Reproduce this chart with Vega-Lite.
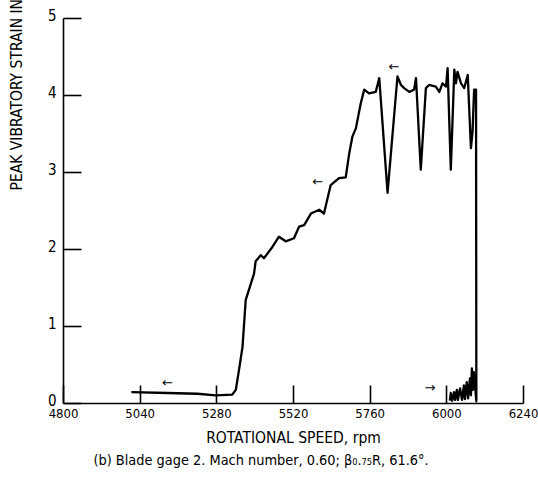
{
  "$schema": "https://vega.github.io/schema/vega-lite/v6.json",
  "autosize": {"type": "none"},
  "width": 460,
  "height": 385,
  "padding": {"left": 63, "top": 18, "right": 15, "bottom": 77},
  "background": "white",
  "config": {
    "view": {"stroke": null},
    "font": "DejaVu Sans Condensed, Liberation Sans, sans-serif",
    "axis": {"grid": false, "labelFlush": false, "domainColor": "#000", "domainWidth": 1.6, "tickColor": "#000", "tickWidth": 1.6, "labelColor": "#000", "titleColor": "#000", "labelFont": "DejaVu Sans Condensed, Liberation Sans, sans-serif", "titleFont": "DejaVu Sans Condensed, Liberation Sans, sans-serif", "labelFontSize": 13, "titleFontSize": 15.5, "titleFontWeight": "normal"}
  },
  "title": {
    "text": "(b) Blade gage 2. Mach number, 0.60; β₀.₇₅R, 61.6°.",
    "orient": "bottom",
    "anchor": "middle",
    "font": "DejaVu Sans Condensed, Liberation Sans, sans-serif",
    "fontSize": 14.4,
    "fontWeight": "normal",
    "color": "#000",
    "offset": 8,
    "dx": -32
  },
  "datasets": {
    "curve": [
      {"i": 1, "rpm": 5014, "strain": 0.14},
      {"i": 2, "rpm": 5127, "strain": 0.13},
      {"i": 3, "rpm": 5221, "strain": 0.12},
      {"i": 4, "rpm": 5278, "strain": 0.10},
      {"i": 5, "rpm": 5330, "strain": 0.11},
      {"i": 6, "rpm": 5341, "strain": 0.17},
      {"i": 7, "rpm": 5351, "strain": 0.43},
      {"i": 8, "rpm": 5362, "strain": 0.73},
      {"i": 9, "rpm": 5372, "strain": 1.34},
      {"i": 10, "rpm": 5382, "strain": 1.47},
      {"i": 11, "rpm": 5398, "strain": 1.68},
      {"i": 12, "rpm": 5403, "strain": 1.84},
      {"i": 13, "rpm": 5419, "strain": 1.92},
      {"i": 14, "rpm": 5429, "strain": 1.88},
      {"i": 15, "rpm": 5456, "strain": 2.03},
      {"i": 16, "rpm": 5476, "strain": 2.16},
      {"i": 17, "rpm": 5497, "strain": 2.10},
      {"i": 18, "rpm": 5523, "strain": 2.14},
      {"i": 19, "rpm": 5539, "strain": 2.29},
      {"i": 20, "rpm": 5555, "strain": 2.31},
      {"i": 21, "rpm": 5576, "strain": 2.46},
      {"i": 22, "rpm": 5602, "strain": 2.51},
      {"i": 23, "rpm": 5617, "strain": 2.46},
      {"i": 24, "rpm": 5638, "strain": 2.83},
      {"i": 25, "rpm": 5664, "strain": 2.92},
      {"i": 26, "rpm": 5685, "strain": 2.93},
      {"i": 27, "rpm": 5696, "strain": 3.24},
      {"i": 28, "rpm": 5706, "strain": 3.46},
      {"i": 29, "rpm": 5717, "strain": 3.57},
      {"i": 30, "rpm": 5732, "strain": 3.89},
      {"i": 31, "rpm": 5743, "strain": 4.07},
      {"i": 32, "rpm": 5758, "strain": 4.02},
      {"i": 33, "rpm": 5779, "strain": 4.04},
      {"i": 34, "rpm": 5790, "strain": 4.22},
      {"i": 35, "rpm": 5816, "strain": 2.73},
      {"i": 36, "rpm": 5847, "strain": 4.24},
      {"i": 37, "rpm": 5858, "strain": 4.13},
      {"i": 38, "rpm": 5868, "strain": 4.09},
      {"i": 39, "rpm": 5884, "strain": 4.04},
      {"i": 40, "rpm": 5899, "strain": 4.07},
      {"i": 41, "rpm": 5905, "strain": 4.22},
      {"i": 42, "rpm": 5920, "strain": 3.03},
      {"i": 43, "rpm": 5936, "strain": 4.09},
      {"i": 44, "rpm": 5946, "strain": 4.13},
      {"i": 45, "rpm": 5967, "strain": 4.11},
      {"i": 46, "rpm": 5978, "strain": 4.04},
      {"i": 47, "rpm": 5988, "strain": 4.15},
      {"i": 48, "rpm": 5999, "strain": 4.11},
      {"i": 49, "rpm": 6004, "strain": 4.35},
      {"i": 50, "rpm": 6014, "strain": 3.03},
      {"i": 51, "rpm": 6025, "strain": 4.33},
      {"i": 52, "rpm": 6030, "strain": 4.15},
      {"i": 53, "rpm": 6035, "strain": 4.30},
      {"i": 54, "rpm": 6046, "strain": 4.15},
      {"i": 55, "rpm": 6056, "strain": 4.09},
      {"i": 56, "rpm": 6067, "strain": 4.26},
      {"i": 57, "rpm": 6077, "strain": 3.31},
      {"i": 58, "rpm": 6082, "strain": 3.52},
      {"i": 59, "rpm": 6087, "strain": 4.07},
      {"i": 60, "rpm": 6093, "strain": 4.07},
      {"i": 61, "rpm": 6094, "strain": 0.02},
      {"i": 62, "rpm": 6086, "strain": 0.40},
      {"i": 63, "rpm": 6083, "strain": 0.17},
      {"i": 64, "rpm": 6080, "strain": 0.45},
      {"i": 65, "rpm": 6077, "strain": 0.10},
      {"i": 66, "rpm": 6074, "strain": 0.32},
      {"i": 67, "rpm": 6068, "strain": 0.06},
      {"i": 68, "rpm": 6064, "strain": 0.27},
      {"i": 69, "rpm": 6058, "strain": 0.05},
      {"i": 70, "rpm": 6055, "strain": 0.23},
      {"i": 71, "rpm": 6049, "strain": 0.04},
      {"i": 72, "rpm": 6043, "strain": 0.19},
      {"i": 73, "rpm": 6036, "strain": 0.04},
      {"i": 74, "rpm": 6033, "strain": 0.17},
      {"i": 75, "rpm": 6027, "strain": 0.04},
      {"i": 76, "rpm": 6024, "strain": 0.14},
      {"i": 77, "rpm": 6018, "strain": 0.03},
      {"i": 78, "rpm": 6014, "strain": 0.13},
      {"i": 79, "rpm": 6011, "strain": 0.03}
    ],
    "arrows": [
      {"rpm": 5127, "strain": 0.26, "arrow": "←"},
      {"rpm": 5597, "strain": 2.87, "arrow": "←"},
      {"rpm": 5836, "strain": 4.36, "arrow": "←"},
      {"rpm": 5949, "strain": 0.20, "arrow": "→"}
    ]
  },
  "layer": [
    {
      "data": {"name": "curve"},
      "mark": {"type": "line", "color": "#000", "strokeWidth": 2.3, "strokeJoin": "round", "interpolate": "linear"},
      "encoding": {
        "x": {
          "field": "rpm", "type": "quantitative",
          "scale": {"domain": [4800, 6240], "nice": false, "zero": false},
          "axis": {"values": [4800, 5040, 5280, 5520, 5760, 6000, 6240], "format": "d", "tickSize": -18, "labelPadding": 22, "title": "ROTATIONAL SPEED, rpm", "titleY": 34, "titleBaseline": "middle"}
        },
        "y": {
          "field": "strain", "type": "quantitative",
          "scale": {"domain": [0, 5], "nice": false},
          "axis": {"values": [0, 1, 2, 3, 4, 5], "format": "d", "tickSize": -18, "labelPadding": 25, "labelOffset": -3, "labelFontSize": 15, "title": "PEAK VIBRATORY STRAIN INDICATOR", "titleAngle": -90, "titleAlign": "left", "titleBaseline": "middle", "titleX": -47, "titleY": 172}
        },
        "order": {"field": "i", "type": "quantitative"}
      }
    },
    {
      "data": {"name": "arrows"},
      "mark": {"type": "text", "color": "#000", "fontSize": 13, "font": "DejaVu Sans"},
      "encoding": {
        "x": {"field": "rpm", "type": "quantitative"},
        "y": {"field": "strain", "type": "quantitative"},
        "text": {"field": "arrow"}
      }
    }
  ]
}
